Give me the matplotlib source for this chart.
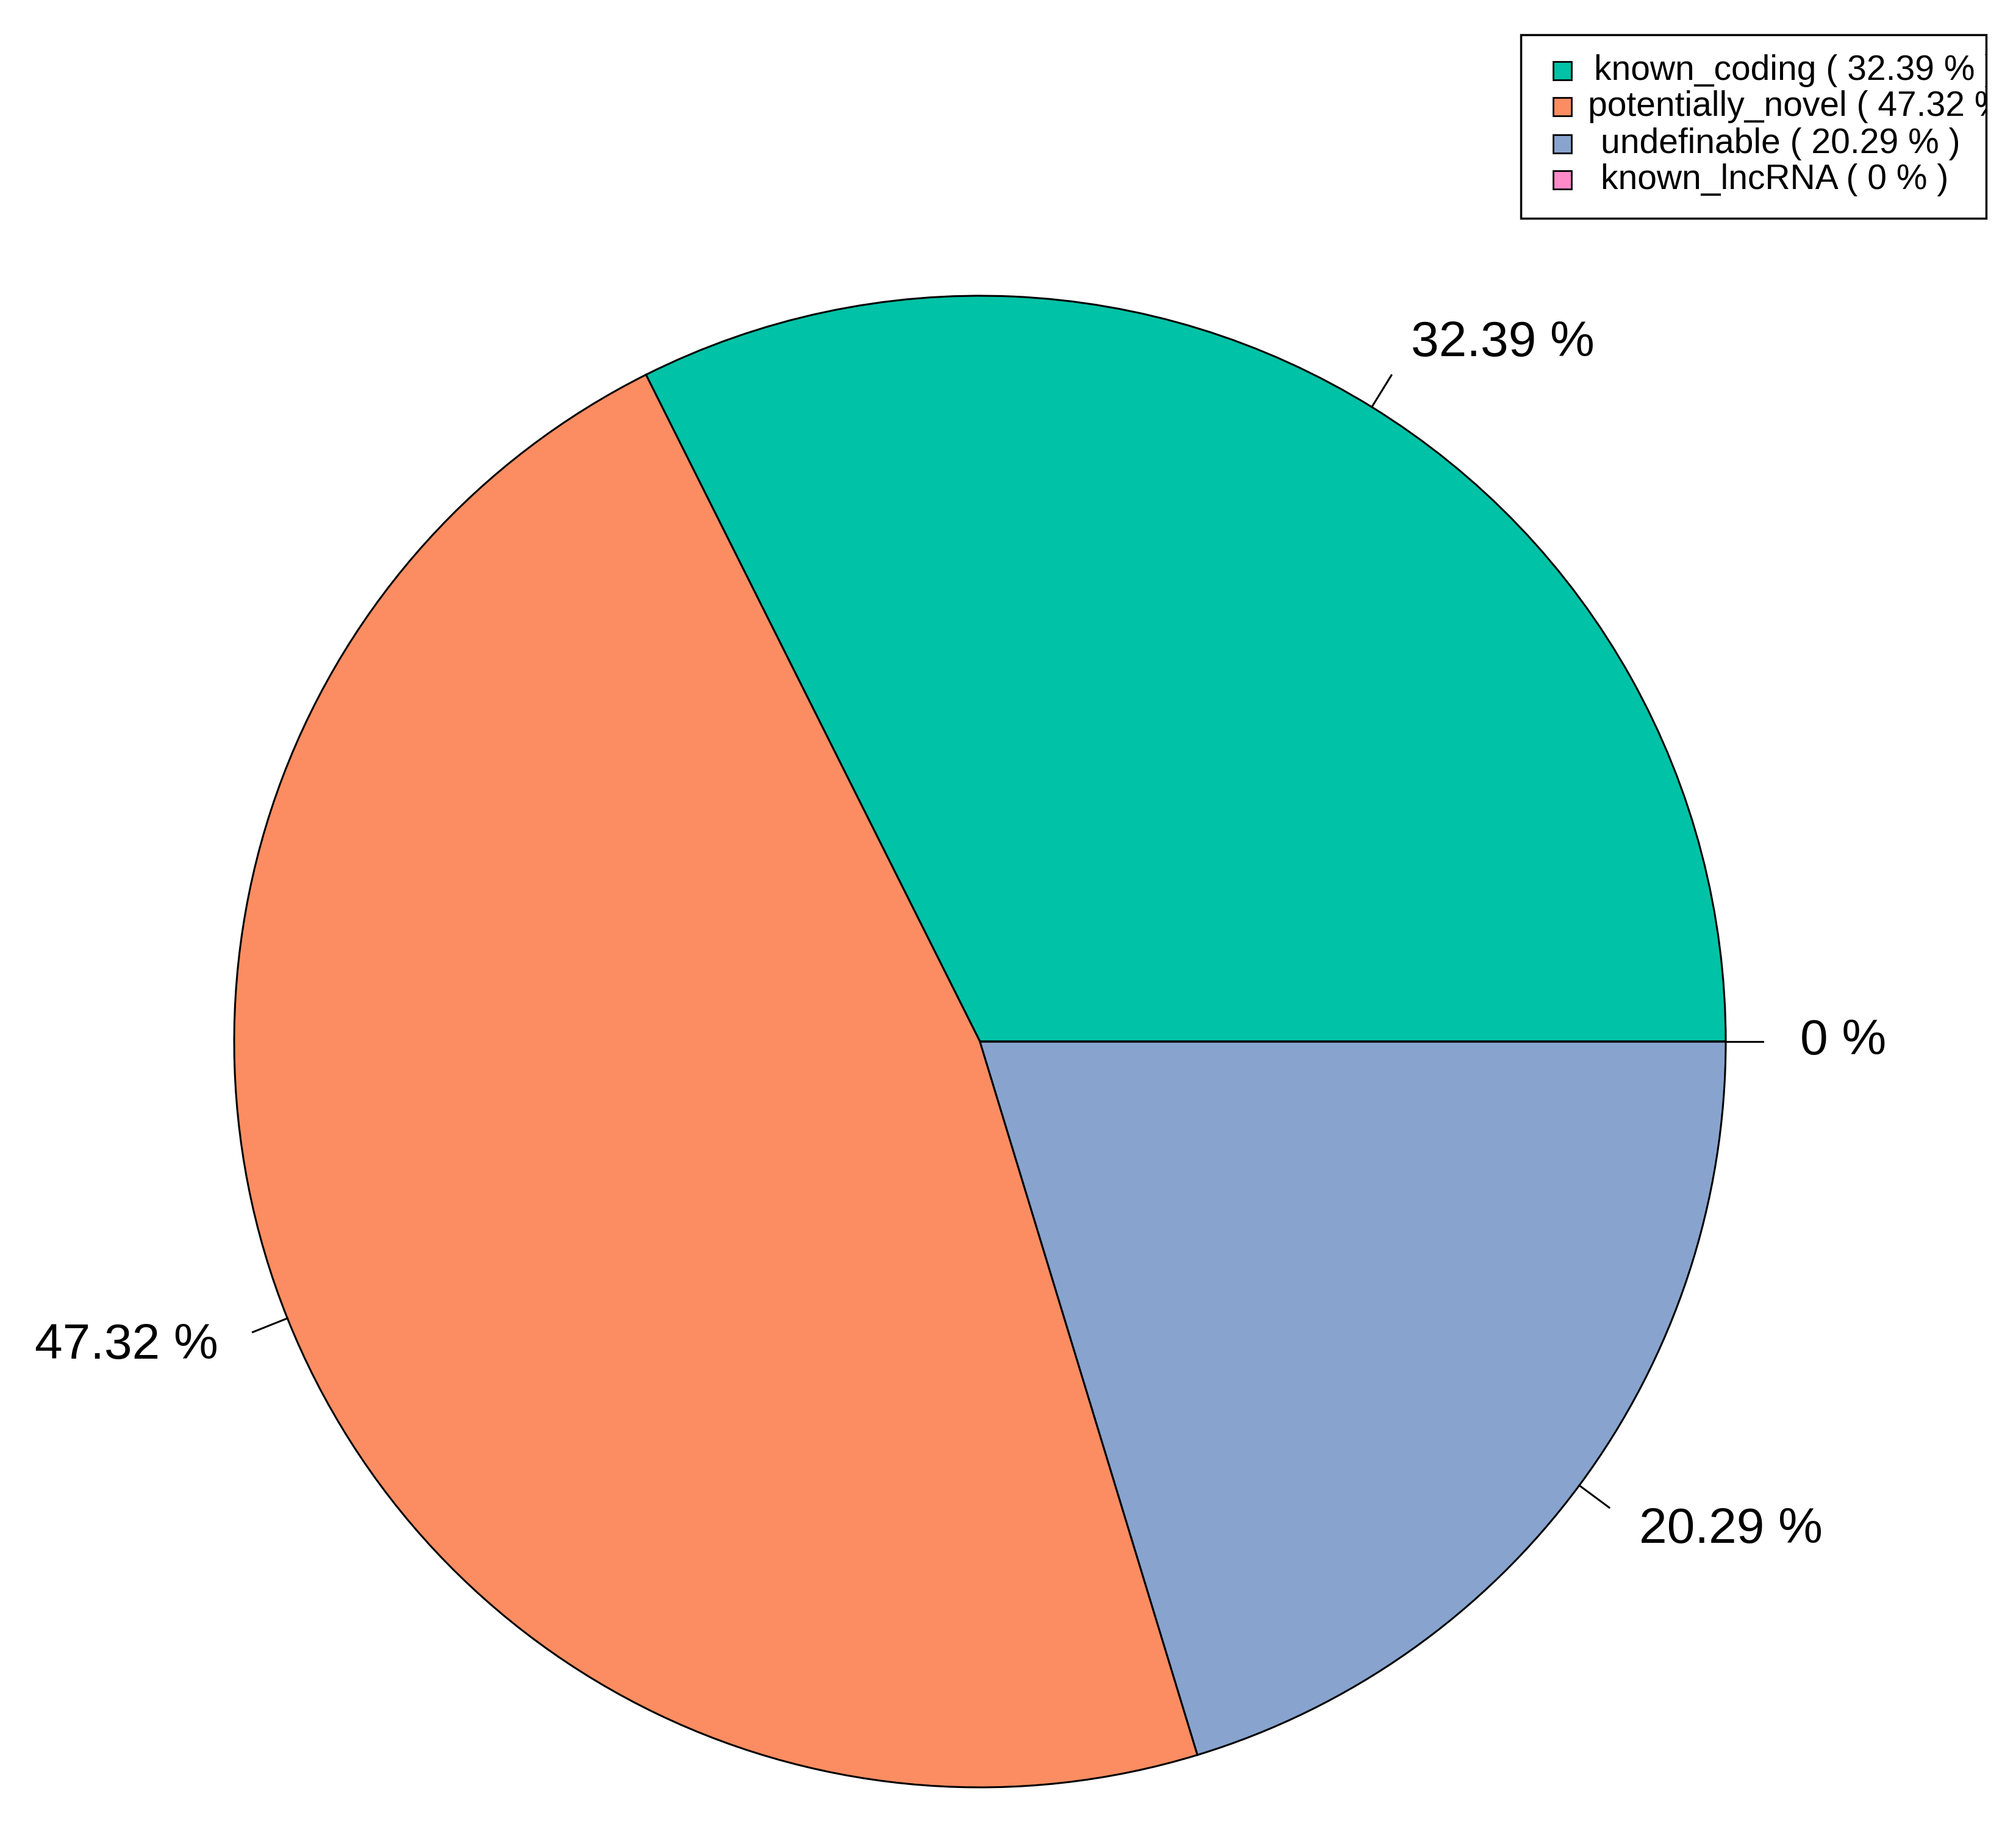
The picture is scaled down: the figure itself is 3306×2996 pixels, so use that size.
import matplotlib
matplotlib.use('Agg')
import matplotlib.pyplot as plt
from matplotlib.patches import Rectangle
import numpy as np

plt.rcParams['font.family'] = ['Liberation Sans', 'DejaVu Sans']

### Datos ###############################################
categorias = ['known_coding', 'potentially_novel', 'undefinable', 'known_lncRNA']
porcentajes = [32.39, 47.32, 20.29, 0]
colores = ['#00C2A6', '#FC8D62', '#88A4CE', '#FF8AC8']

### Figura ###############################################
W, H = 3306, 2996
cx, cy, rad = 1607, 1708, 1223   # centro y radio en pixeles

fig = plt.figure(figsize=(W / 100, H / 100), dpi=100)
ax = fig.add_axes([0, 0, 1, 1])

wedges, _ = ax.pie(porcentajes, colors=colores, startangle=0, counterclock=True,
                   radius=1, normalize=True,
                   wedgeprops=dict(edgecolor='black', linewidth=2.2))

ax.set_xlim(-cx / rad, (W - cx) / rad)
ax.set_ylim(-(H - cy) / rad, cy / rad)
ax.set_aspect('auto')
ax.axis('off')

#### etiquetas estilo R ##########################################
total = sum(porcentajes)
acum = 0
for p in porcentajes:
    ang = np.deg2rad((acum + p / 2) / total * 360)
    acum += p
    c, s = np.cos(ang), np.sin(ang)
    ax.plot([c, 1.05 * c], [s, 1.05 * s], color='black', linewidth=2.2)
    ax.text(1.1 * c, 1.1 * s, '{:g} %'.format(p), fontsize=59,
            ha='left' if c > 0 else 'right', va='center')

#### leyenda #####################################################
def fx(px):
    return px / W

def fy(py):
    return 1 - py / H

box = Rectangle((fx(2494), fy(358)), fx(3257) - fx(2494), fy(57) - fy(358),
                transform=fig.transFigure, facecolor='white', edgecolor='black',
                linewidth=2.5, zorder=5)
fig.patches.append(box)

filas_y = [116, 175, 236, 295]
texto_x = [2614, 2604, 2625, 2625]
for nom, p, col, yy, xx in zip(categorias, porcentajes, colores, filas_y, texto_x):
    sq = Rectangle((fx(2547), fy(yy + 15)), fx(30), 30 / H,
                   transform=fig.transFigure, facecolor=col, edgecolor='black',
                   linewidth=2, zorder=6)
    fig.patches.append(sq)
    t = fig.text(fx(xx), fy(yy), '{} ( {:g} % )'.format(nom, p), fontsize=41,
                 ha='left', va='center', zorder=6)
    t.set_clip_path(box)

fig.savefig('out.png', dpi=100)
